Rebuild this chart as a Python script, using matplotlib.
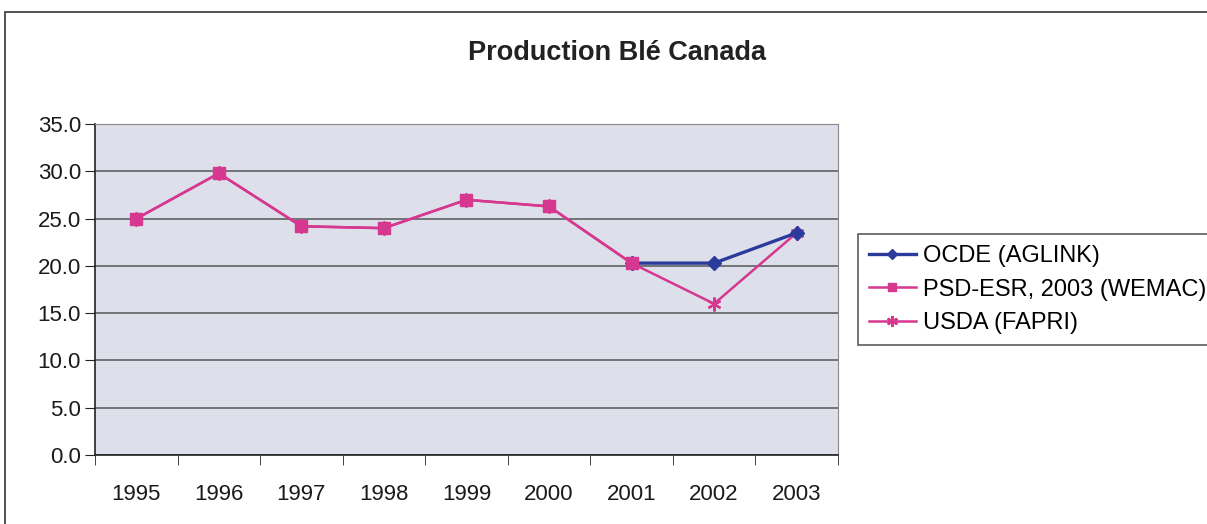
import matplotlib
matplotlib.use('Agg')
import matplotlib.pyplot as plt
from matplotlib.patches import Rectangle

years = ['1995', '1996', '1997', '1998', '1999', '2000', '2001', '2002', '2003']
ocde = [None, None, None, None, None, None, 20.3, 20.3, 23.5]
psd = [25.0, 29.8, 24.2, 24.0, 27.0, 26.3, 20.3, None, None]
usda = [25.0, 29.8, 24.2, 24.0, 27.0, 26.3, 20.3, 16.0, 23.5]
yticks = [0, 5, 10, 15, 20, 25, 30, 35]

plt.rcParams['font.family'] = ['Liberation Sans', 'DejaVu Sans']

fig = plt.figure(figsize=(12.07, 5.24), dpi=100)
fig.patches.append(Rectangle((0.004, -0.1), 1.1, 1.077, transform=fig.transFigure,
                             fill=False, edgecolor='#333333', linewidth=1.2))
ax = fig.add_axes([0.0787, 0.1317, 0.6155, 0.6313])
ax.set_facecolor('#dde0ea')

x = list(range(len(years)))

def pts(vals):
    xs = [i for i, v in enumerate(vals) if v is not None]
    ys = [v for v in vals if v is not None]
    return xs, ys

pink = '#d6378f'
blue = '#2a3b9c'
star = (6, 2, 0)
xs, ys = pts(usda)
ax.plot(xs, ys, color=pink, linewidth=1.8, marker=star, markersize=10, markeredgewidth=1.6,
        label='USDA (FAPRI)', zorder=3)
xs, ys = pts(ocde)
ax.plot(xs, ys, color=blue, linewidth=2.4, marker='D', markersize=7,
        label='OCDE (AGLINK)', zorder=4)
xs, ys = pts(psd)
ax.plot(xs, ys, color=pink, linewidth=1.8, marker='s', markersize=8, markeredgecolor=pink,
        label='PSD-ESR, 2003 (WEMAC)', zorder=5)

ax.set_xlim(-0.5, len(years) - 0.5)
ax.set_ylim(0, 35)
ax.set_yticks(yticks)
ax.set_yticklabels([f'{v:.1f}' for v in yticks], fontsize=16, color='#1a1a1a')
ax.set_xticks(x)
ax.set_xticklabels(years, fontsize=16, color='#1a1a1a')
ax.set_xticks([i - 0.5 for i in range(len(years) + 1)], minor=True)
ax.tick_params(axis='x', which='major', length=0, pad=21)
ax.tick_params(axis='x', which='minor', length=7, direction='out', color='#222222')
ax.tick_params(axis='y', length=7, direction='out', color='#222222', pad=3)
ax.yaxis.grid(True, color='#555555', linewidth=1.1)
ax.set_axisbelow(True)
for side in ['top', 'right']:
    ax.spines[side].set_color('#888888')
for side in ['left', 'bottom']:
    ax.spines[side].set_color('#222222')
    ax.spines[side].set_linewidth(1.2)

fig.text(0.511, 0.899, 'Production Blé Canada', ha='center', va='center',
         fontsize=19.5, fontweight='bold', color='#222222')

handles, labels = ax.get_legend_handles_labels()
order = [1, 2, 0]
leg = fig.legend([handles[i] for i in order], [labels[i] for i in order],
                 loc='upper left', bbox_to_anchor=(0.711, 0.553), borderaxespad=0,
                 fontsize=17, frameon=True, fancybox=False, edgecolor='#333333',
                 handlelength=2.0, borderpad=0.45, labelspacing=0.5, handletextpad=0.3,
                 markerscale=0.8)
leg.get_frame().set_linewidth(1.2)

fig.savefig('out.png', dpi=100)
